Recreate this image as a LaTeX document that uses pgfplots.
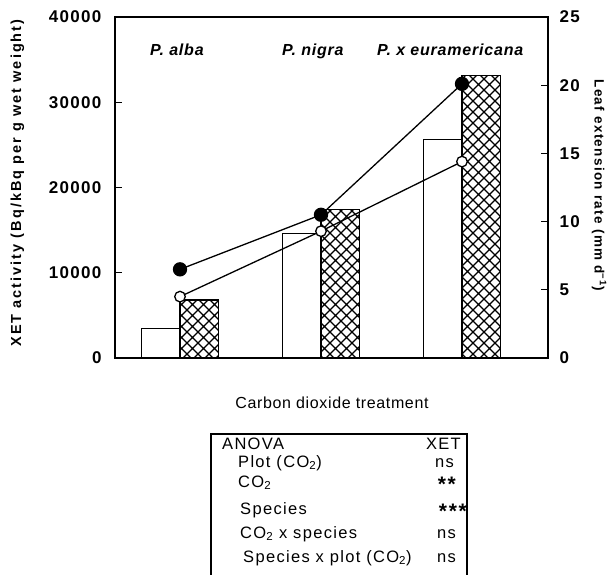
\documentclass[border=0pt]{standalone}
\usepackage{pgfplots}
\pgfplotsset{compat=1.18}
\usepackage{fontspec}
\setmainfont{Liberation Sans}
\usetikzlibrary{patterns}

\pgfdeclarepatternformonly{xhatch}{\pgfqpoint{-1pt}{-1pt}}{\pgfqpoint{12pt}{12pt}}{\pgfqpoint{11pt}{11pt}}{%
  \pgfsetlinewidth{1.1pt}%
  \pgfpathmoveto{\pgfqpoint{-0.5pt}{-0.5pt}}\pgfpathlineto{\pgfqpoint{11.5pt}{11.5pt}}%
  \pgfpathmoveto{\pgfqpoint{-0.5pt}{11.5pt}}\pgfpathlineto{\pgfqpoint{11.5pt}{-0.5pt}}%
  \pgfusepath{stroke}}

\newcommand{\stars}[1]{\raisebox{-4pt}{\fontsize{21}{21}\selectfont\bfseries #1}}

\begin{document}
\begin{tikzpicture}[x=1pt,y=1pt]
\path[use as bounding box] (0,0) rectangle (610,-574);

\begin{axis}[at={(115pt,-358pt)}, anchor=south west, scale only axis,
  width=433pt, height=341pt,
  xmin=0.539, xmax=3.61, ymin=0, ymax=40000,
  axis line style={line width=1.4pt},
  xtick=\empty,
  ytick={0,10000,20000,30000,40000}, ytick pos=left,
  tick align=inside, major tick length=7pt,
  every tick/.style={line width=1.2pt, black},
  /pgf/number format/assume math mode=true,
  scaled y ticks=false,
  yticklabel={\pgfmathprintnumber[fixed,1000 sep={}]{\tick}},
  yticklabel style={font=\fontsize{17}{20}\selectfont\bfseries\addfontfeatures{LetterSpace=8}, xshift=-10pt},
  clip=false]
  \addplot[ybar, bar width=0.273, bar shift=-0.1365, draw=black, line width=1.2pt, fill=white]
    coordinates {(1,3500) (2,14600) (3,25600)};
  \addplot[ybar, bar width=0.273, bar shift=0.1365, draw=black, line width=1.2pt, pattern=xhatch]
    coordinates {(1,6800) (2,17400) (3,33100)};
\end{axis}

\begin{axis}[at={(115pt,-358pt)}, anchor=south west, scale only axis,
  width=433pt, height=341pt,
  xmin=0.539, xmax=3.61, ymin=0, ymax=25,
  axis x line=none, axis y line*=right,
  axis line style={line width=1.4pt},
  ytick={0,5,10,15,20,25},
  tick align=inside, major tick length=7pt,
  every tick/.style={line width=1.2pt, black},
  /pgf/number format/assume math mode=true,
  yticklabel style={font=\fontsize{17}{20}\selectfont\bfseries\addfontfeatures{LetterSpace=8}, xshift=8pt},
  clip=false]
  \addplot[black, line width=1.3pt, mark=*, mark size=6.5pt, mark options={fill=black}]
    coordinates {(1,6.5) (2,10.5) (3,20.1)};
  \addplot[black, line width=1.3pt, mark=*, mark size=5.3pt, mark options={fill=white}]
    coordinates {(1,4.5) (2,9.3) (3,14.4)};
\end{axis}

% species labels
\begin{scope}[every node/.style={font=\fontsize{16}{18}\selectfont\bfseries\itshape\addfontfeatures{LetterSpace=5}, anchor=base west, inner sep=0pt}]
\node at (150,-55) {P. alba};
\node at (282,-55) {P. nigra};
\node at (377,-55) {P. x euramericana};
\end{scope}

% axis titles
\node[rotate=90, font=\fontsize{14.5}{16}\selectfont\bfseries\addfontfeatures{LetterSpace=14}, inner sep=0pt] at (17.5,-183) {XET activity (Bq/kBq per g wet weight)};
\node[rotate=-90, font=\fontsize{13.5}{15}\selectfont\bfseries\addfontfeatures{LetterSpace=10}, inner sep=0pt] at (599,-185) {Leaf extension rate (mm d\textsuperscript{−1})};
\node[anchor=base, font=\fontsize{16}{18}\selectfont\addfontfeatures{LetterSpace=4}, inner sep=0pt] at (332,-408) {Carbon dioxide treatment};

% ANOVA table
\draw[line width=1.3pt] (211,-580) -- (211,-434) -- (467,-434) -- (467,-580);
\begin{scope}[every node/.style={font=\fontsize{16.5}{18}\selectfont\addfontfeatures{LetterSpace=8}, inner sep=0pt}]
\node[anchor=base west] at (222,-449) {ANOVA};
\node[anchor=base east] at (461,-449) {XET};
\node[anchor=base west] at (238,-467) {Plot (CO\textsubscript{2})};
\node[anchor=base east] at (454,-467) {ns};
\node[anchor=base west] at (238,-487) {CO\textsubscript{2}};
\node[anchor=base east] at (456,-487) {\stars{**}};
\node[anchor=base west] at (240,-514) {Species};
\node[anchor=base east] at (467,-514) {\stars{***}};
\node[anchor=base west] at (240,-538) {CO\textsubscript{2} x species};
\node[anchor=base east] at (456,-538) {ns};
\node[anchor=base west] at (243,-562) {Species x plot (CO\textsubscript{2})};
\node[anchor=base east] at (456,-562) {ns};
\end{scope}
\end{tikzpicture}
\end{document}
